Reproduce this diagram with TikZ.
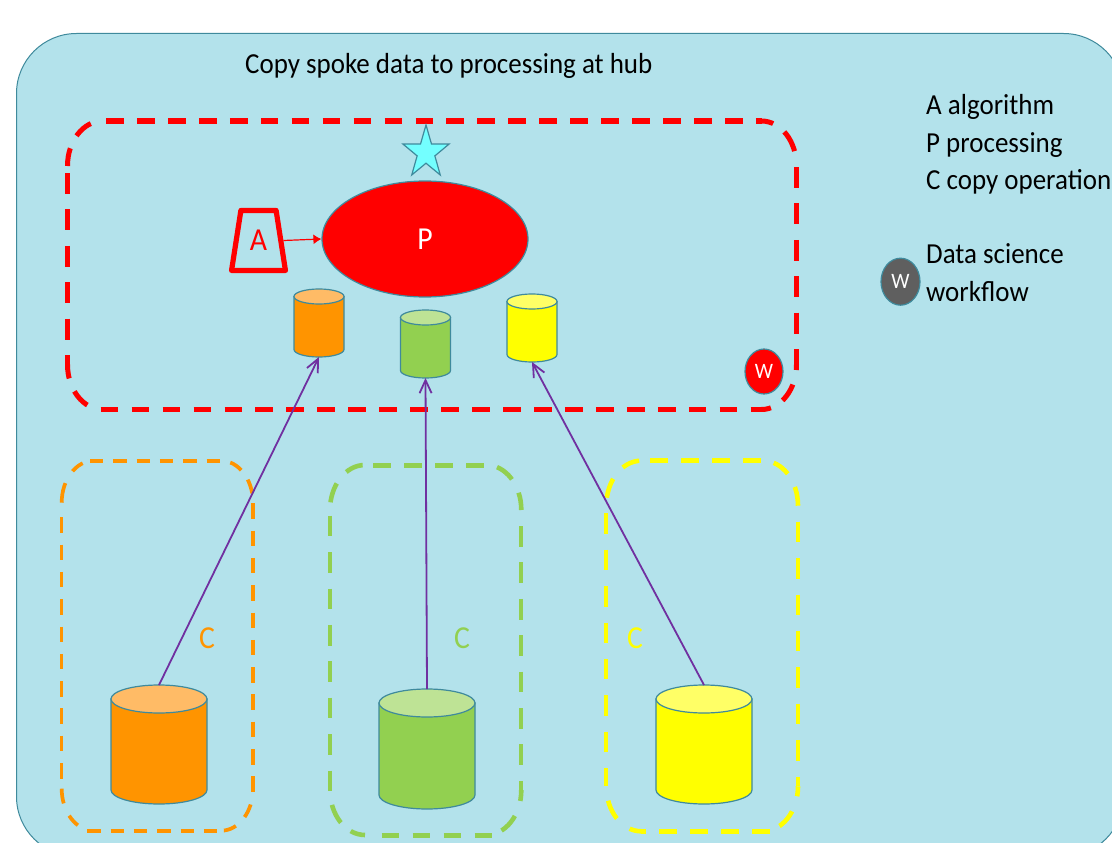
\documentclass[tikz,border=0pt]{standalone}
\usepackage{fontspec}
\setmainfont[FakeStretch=0.93]{Carlito}
\usetikzlibrary{shapes.geometric,arrows.meta}
\definecolor{bgblue}{HTML}{B3E2EB}
\definecolor{edgeblue}{HTML}{3F8A9C}
\definecolor{cylorange}{HTML}{FF9400}
\definecolor{toporange}{HTML}{FFBB66}
\definecolor{cylgreen}{HTML}{92D050}
\definecolor{topgreen}{HTML}{BEE395}
\definecolor{cylyellow}{HTML}{FFFF00}
\definecolor{topyellow}{HTML}{FFFF66}
\definecolor{arrowpurple}{HTML}{7030A0}
\definecolor{darkgrey}{HTML}{5F5F5F}
\definecolor{starcyan}{HTML}{73FFFF}
\tikzset{
  x=1pt,y=-1pt,
  flow/.style={arrowpurple,line width=1.8pt,-{Straight Barb[length=13pt,width=12pt,line width=1.8pt]}},
  bigtext/.style={font=\fontsize{29}{34}\selectfont,inner sep=0pt,anchor=base west},
  lettertext/.style={font=\fontsize{32}{36}\selectfont,inner sep=0pt},
  small/.style={font=\fontsize{22}{26}\selectfont,inner sep=0pt},
  cylbody/.style={draw=edgeblue,line width=1.2pt},
  wmark/.style={ellipse,draw=edgeblue,line width=1.2pt,minimum width=38pt,minimum height=45pt,inner sep=0pt,text=white,small}
}
% dashed zone helpers: sides and corners carry their own dash rhythm
\newcommand{\zh}[4]{\draw[draw=\zcolor,line width=\zhw pt,dash pattern=on \zhon pt off \zhoff pt,dash phase=#4pt] (#2,#1) -- (#3,#1);}
\newcommand{\zv}[3]{\draw[draw=\zcolor,line width=\zvw pt,dash pattern=on \zvon pt off \zvoff pt] (#1,#2) -- (#1,#3);}
\newcommand{\zc}[5]{\draw[draw=\zcolor,line width=\zcw pt,dash pattern=#5] (#1,#2) ++(#3:\zrx\space and -\zry) arc[start angle=#3,end angle=#4,x radius=\zrx,y radius=-\zry];}
\begin{document}
\begin{tikzpicture}
\useasboundingbox (0,0) rectangle (1112,843);
\fill[white] (0,0) rectangle (1112,843);
\begin{scope}
\clip (0,0) rectangle (1112,843);
\node[draw=edgeblue,fill=bgblue,line width=1pt,rounded corners=60pt,minimum width=1107pt,minimum height=823pt,anchor=north west,inner sep=0pt] (panel) at (16,33) {};
\end{scope}
\node[bigtext] (title) at (245,74) {Copy spoke data to processing at hub};
\node[bigtext] (l1) at (926,114) {A algorithm};
\node[bigtext] (l2) at (926,152.5) {P processing};
\node[bigtext] (l3) at (926,189.5) {C copy operation};
\node[bigtext] (l4) at (926,263) {Data science};
\node[bigtext] (l5) at (926,301) {workflow};
\node[wmark,fill=darkgrey,minimum height=47pt,minimum width=39pt] (wlegend) at (900.5,281.7) {W};

% red hub zone
\begin{scope}
\def\zcolor{red}\def\zhw{5.4}\def\zvw{4.7}\def\zcw{5}
\def\zhon{17.7}\def\zhoff{13.25}\def\zvon{21}\def\zvoff{15.4}
\def\zrx{35}\def\zry{45}
\zh{121}{106}{761.5}{0}
\zh{409.5}{100.7}{761.5}{0}
\zv{67.5}{173}{364.5}
\zv{796.5}{167}{364.5}
\zc{102.5}{166}{180}{90}{on 18pt off 14pt on 19pt off 100pt}
\zc{761.5}{166}{90}{0}{on 12pt off 14pt on 22pt off 100pt}
\zc{761.5}{364.5}{0}{-90}{on 5.5pt off 15pt on 19pt off 14pt on 10pt off 100pt}
\zc{102.5}{364.5}{-90}{-180}{on 0pt off 16pt on 19pt off 14pt on 20pt off 100pt}
\end{scope}
% orange zone
\begin{scope}
\def\zcolor{cylorange}\def\zhw{4}\def\zvw{3.4}\def\zcw{3.7}
\def\zhon{13.3}\def\zhoff{10}\def\zvon{15.5}\def\zvoff{11.8}
\def\zrx{32}\def\zry{42}
\zh{460.7}{90}{221}{0}
\zh{830.7}{87.3}{221}{0}
\zv{61.7}{517.3}{778.5}
\zv{253}{503.3}{791.7}
\zc{93.7}{502.7}{180}{90}{on 20pt off 14pt on 13pt off 100pt}
\zc{221}{502.7}{90}{0}{on 0pt off 9.5pt on 13.5pt off 11.5pt on 14.5pt off 100pt}
\zc{221}{788.7}{0}{-90}{on 0pt off 16pt on 14pt off 12.5pt on 13pt off 100pt}
\zc{93.7}{788.7}{-90}{-180}{on 0pt off 17pt on 13pt off 13.5pt on 15pt off 100pt}
\end{scope}
% green zone
\begin{scope}
\def\zcolor{cylgreen}\def\zhw{5}\def\zvw{4.2}\def\zcw{4.6}
\def\zhon{17.7}\def\zhoff{13.3}\def\zvon{20.7}\def\zvoff{15.7}
\def\zrx{35}\def\zry{45}
\zh{465}{373.3}{486.3}{0}
\zh{835}{381.7}{492}{0}
\zv{330}{515.7}{791.7}
\zv{521.3}{526}{790}
\zc{365}{510}{180}{90}{on 0pt off 7.7pt on 20pt off 15pt on 18pt off 100pt}
\zc{486.3}{510}{90}{0}{on 0pt off 11pt on 19.5pt off 15pt on 20pt off 100pt}
\zc{486.3}{790}{0}{-90}{on 11pt off 16pt on 20pt off 100pt}
\zc{365}{790}{-90}{-180}{on 15pt off 13pt on 20pt off 100pt}
\end{scope}
% yellow zone
\begin{scope}
\def\zcolor{cylyellow}\def\zhw{5}\def\zvw{4.2}\def\zcw{4.6}
\def\zhon{17.7}\def\zhoff{13.3}\def\zvon{20.4}\def\zvoff{16}
\def\zrx{35}\def\zry{45}
\zh{460.7}{650}{763}{0}
\zh{831.3}{641.3}{769.7}{13}
\zv{606.3}{513.3}{786.3}
\zv{798}{521.7}{786.3}
\zc{641.3}{505.7}{180}{90}{on 0pt off 8pt on 20pt off 15pt on 18pt off 100pt}
\zc{763}{505.7}{90}{0}{on 0pt off 11pt on 18pt off 15pt on 21pt off 100pt}
\zc{763}{786.3}{0}{-90}{on 10pt off 16pt on 19.5pt off 100pt}
\zc{641.3}{786.3}{-90}{-180}{on 12pt off 16.5pt on 20pt off 100pt}
\end{scope}

\node[star,star points=5,star point ratio=2.6,draw=edgeblue,fill=starcyan,line width=1.2pt,minimum size=48.5pt,inner sep=0pt,yscale=1.14,transform shape] (star) at (426,152.6) {};
\node[ellipse,draw=edgeblue,fill=red,line width=1.2pt,minimum width=206pt,minimum height=116pt,inner sep=0pt,text=white,lettertext] (P) at (425,239) {P};
\node[trapezium,trapezium stretches=true,trapezium left angle=77.5,trapezium right angle=77.5,draw=red,line width=5.2pt,line join=round,minimum width=54pt,minimum height=60pt,inner sep=0pt,text=red,lettertext] (A) at (258.5,240.5) {A};
\draw[red,line width=1.2pt,-{Latex[length=8pt,width=10pt]}] (A.east) -- (P.west);

\node[wmark,fill=red] (wzone) at (764,371.5) {W};

\foreach \n/\c/\t/\b/\rx/\ry/\fa/\fb in {
 o1/319/289/357/25/7.5/cylorange/toporange,
 g1/425.5/310/378/25/7.5/cylgreen/topgreen,
 y1/532/294/362/25/7.5/cylyellow/topyellow,
 o2/159/685/804/48/14/cylorange/toporange,
 g2/427/689/809/48/14/cylgreen/topgreen,
 y2/704/685/804/48/14/cylyellow/topyellow}{
 \filldraw[fill=\fa,cylbody]
   ({\c-\rx},{\t+\ry}) -- ({\c-\rx},{\b-\ry}) arc[start angle=180,end angle=360,x radius=\rx,y radius=-\ry]
   -- ({\c+\rx},{\t+\ry}) -- cycle;
 \filldraw[fill=\fb,cylbody] (\c,{\t+\ry}) ellipse[x radius=\rx,y radius=\ry];
 \node[inner sep=0pt,outer sep=0pt,minimum width={2*\rx},minimum height={\b-\t}] (\n) at (\c,{(\t+\b)/2}) {};
}
\draw[flow] (o2.north) -- (o1.south);
\draw[flow] (g2.north) -- (g1.south);
\draw[flow] (y2.north) -- (y1.south);
\node[lettertext,text=cylorange] (c1) at (207,638) {C};
\node[lettertext,text=cylgreen] (c2) at (462,638) {C};
\node[lettertext,text=cylyellow] (c3) at (635,638) {C};
\end{tikzpicture}
\end{document}
